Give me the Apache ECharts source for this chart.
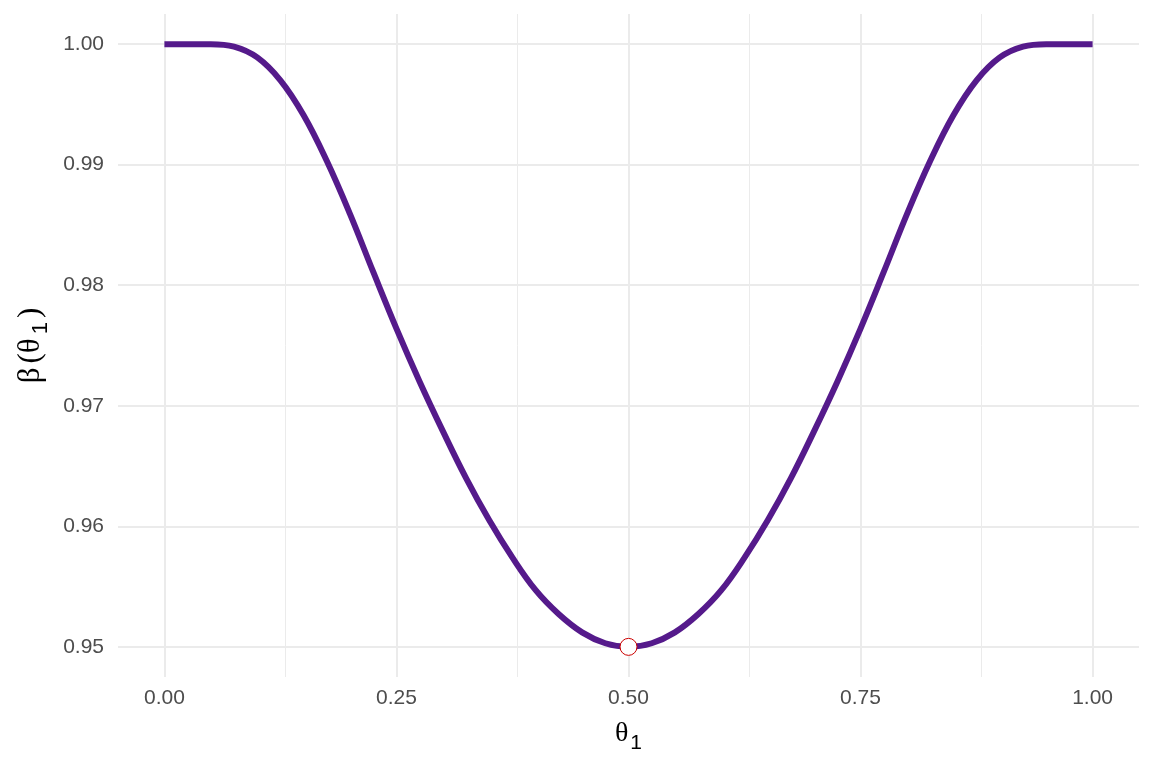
<!DOCTYPE html>
<html>
<head>
<meta charset="utf-8">
<script src="https://cdn.jsdelivr.net/npm/echarts@6/dist/echarts.min.js"></script>
<style>
  html, body { margin: 0; padding: 0; background: #fff; }
  #chart { width: 1152px; height: 768px; }
</style>
</head>
<body>
<div id="chart"></div>
<script>
// theta_1 grid and power curve
const thetaValues = [0, 0.025, 0.05, 0.075, 0.1, 0.125, 0.15, 0.175, 0.2, 0.225,
  0.25, 0.275, 0.3, 0.325, 0.35, 0.375, 0.4, 0.425, 0.45, 0.475,
  0.5, 0.525, 0.55, 0.575, 0.6, 0.625, 0.65, 0.675, 0.7, 0.725,
  0.75, 0.775, 0.8, 0.825, 0.85, 0.875, 0.9, 0.925, 0.95, 0.975, 1];
const powerValues = [1.0000, 1.0000, 1.0000, 0.9998, 0.9989, 0.9970, 0.9941, 0.9903, 0.9859, 0.9811,
  0.9764, 0.9720, 0.9679, 0.9640, 0.9605, 0.9574, 0.9547, 0.9527, 0.9512, 0.9503,
  0.9500, 0.9503, 0.9512, 0.9527, 0.9547, 0.9574, 0.9605, 0.9640, 0.9679, 0.9720,
  0.9764, 0.9811, 0.9859, 0.9903, 0.9941, 0.9970, 0.9989, 0.9998, 1.0000, 1.0000, 1.0000];
const minPoint = [0.5, 0.95];

const xTickLabels = [0, 0.25, 0.5, 0.75, 1];
const yTickLabels = [0.95, 0.96, 0.97, 0.98, 0.99, 1.00];
const xMinorGrid = [0.125, 0.375, 0.625, 0.875];
const yMinorGrid = [0.955, 0.965, 0.975, 0.985, 0.995];

const gridColor = '#EBEBEB';
const labelColor = '#4D4D4D';

const chart = echarts.init(document.getElementById('chart'));

// panel grid lines (ggplot style: major thicker, minor thinner)
const gridLines = [];
xTickLabels.forEach(v => gridLines.push({ xAxis: v, lineStyle: { width: 2, color: gridColor, type: 'solid' } }));
xMinorGrid.forEach(v => gridLines.push({ xAxis: v, lineStyle: { width: 1, color: gridColor, type: 'solid' } }));
yTickLabels.forEach(v => gridLines.push({ yAxis: v, lineStyle: { width: 2, color: gridColor, type: 'solid' } }));
yMinorGrid.forEach(v => gridLines.push({ yAxis: v, lineStyle: { width: 1, color: gridColor, type: 'solid' } }));

// subscript: main glyphs top-aligned, the "1" bottom-aligned in a taller box
const xNameRich = {
  t: { fontFamily: 'Liberation Serif', fontSize: 28, color: '#000', lineHeight: 28, verticalAlign: 'top' },
  s: { fontFamily: 'Liberation Sans', fontSize: 21, color: '#000', lineHeight: 34, padding: [0, 0, 0, 2], verticalAlign: 'bottom' }
};
const yNameRich = {
  t: { fontFamily: 'Liberation Serif', fontSize: 31, color: '#000', lineHeight: 31, padding: [0, 2, 0, 2], verticalAlign: 'top' },
  s: { fontFamily: 'Liberation Sans', fontSize: 22, color: '#000', lineHeight: 37, padding: [0, 2, 0, 2], verticalAlign: 'bottom' }
};

const option = {
  animation: false,
  backgroundColor: '#fff',
  grid: { left: 118, right: 13, top: 14, bottom: 91, containLabel: false },
  xAxis: {
    type: 'value',
    min: -0.05,
    max: 1.05,
    axisLine: { show: false },
    axisTick: { show: false },
    splitLine: { show: false },
    axisLabel: {
      customValues: xTickLabels,
      formatter: v => v.toFixed(2),
      color: labelColor,
      fontFamily: 'Liberation Sans',
      fontSize: 21,
      margin: 11
    },
    name: '{t|θ}{s|1}',
    nameLocation: 'middle',
    nameGap: 43,
    nameTextStyle: { rich: xNameRich }
  },
  yAxis: {
    type: 'value',
    min: 0.9475,
    max: 1.0025,
    axisLine: { show: false },
    axisTick: { show: false },
    splitLine: { show: false },
    axisLabel: {
      customValues: yTickLabels,
      formatter: v => v.toFixed(2),
      color: labelColor,
      fontFamily: 'Liberation Sans',
      fontSize: 21,
      margin: 14
    },
    name: '{t|β}{t|(θ}{s|1}{t|)}',
    nameLocation: 'middle',
    nameRotate: 90,
    nameGap: 64,
    nameTextStyle: { rich: yNameRich }
  },
  series: [
    {
      type: 'line',
      data: [],
      z: 0,
      silent: true,
      markLine: {
        silent: true,
        z: 0,
        symbol: 'none',
        label: { show: false },
        animation: false,
        data: gridLines
      }
    },
    {
      name: 'power',
      type: 'line',
      data: thetaValues.map((t, i) => [t, powerValues[i]]),
      smooth: 0.4,
      showSymbol: false,
      z: 3,
      lineStyle: { color: '#551A8B', width: 6, cap: 'butt' }
    },
    {
      name: 'minimum',
      type: 'scatter',
      data: [minPoint],
      z: 4,
      symbol: 'circle',
      symbolSize: 17,
      itemStyle: { color: '#fff', borderColor: '#CC0000', borderWidth: 1, opacity: 1 }
    }
  ]
};
chart.setOption(option);
</script>
</body>
</html>
